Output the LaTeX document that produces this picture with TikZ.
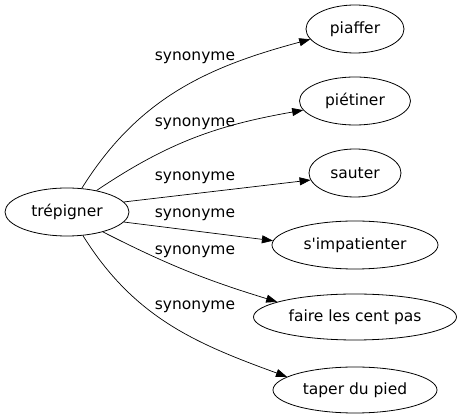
\documentclass[tikz,border=0pt]{standalone}
\usepackage{fontspec}
\setmainfont{DejaVu Sans}
\usetikzlibrary{shapes.geometric,arrows.meta}

\begin{document}
\begin{tikzpicture}[x=1pt, y=-1pt,
    word/.style={draw, ellipse, inner sep=0pt, line width=0.8pt, minimum height=48pt, font=\fontsize{15.5}{18}\selectfont},
    syn/.style={-{Triangle[length=11pt, width=8pt]}, line width=0.7pt},
    rel/.style={font=\fontsize{15.5}{18}\selectfont}]
    \useasboundingbox (0, 0) rectangle (461, 419);
    \node[word, minimum width=124pt] (trepigner) at (67, 212) {trépigner};
    \node[word, minimum width=98pt] (piaffer) at (355, 29) {piaffer};
    \node[word, minimum width=111pt] (pietiner) at (355, 101) {piétiner};
    \node[word, minimum width=92pt] (sauter) at (355, 173) {sauter};
    \node[word, minimum width=166pt] (s impatienter) at (355, 245) {s\textquotesingle impatienter};
    \node[word, minimum width=203pt, minimum height=46pt] (faire les cent pas) at (355, 317) {faire les cent pas};
    \node[word, minimum width=164pt, minimum height=46pt] (taper du pied) at (355, 390) {taper du pied};
    \draw[syn] (trepigner.58) to[out=58, in=195] (piaffer.193);
    \draw[syn] (trepigner.36) to[out=34, in=190] (pietiner.190);
    \draw[syn] (trepigner.10) -- (sauter.189);
    \draw[syn] (trepigner.-10) -- (s impatienter.177);
    \draw[syn] (trepigner.-29) to[out=-27, in=163] (faire les cent pas.169);
    \draw[syn] (trepigner.-56) to[out=-58, in=160] (taper du pied.169);
    \node[rel] (syn piaffer) at (195, 58) {synonyme};
    \node[rel] (syn pietiner) at (195, 124) {synonyme};
    \node[rel] (syn sauter) at (195, 178) {synonyme};
    \node[rel] (syn s impatienter) at (195, 215) {synonyme};
    \node[rel] (syn faire les cent pas) at (195, 252) {synonyme};
    \node[rel] (syn taper du pied) at (195, 307) {synonyme};
\end{tikzpicture}
\end{document}
